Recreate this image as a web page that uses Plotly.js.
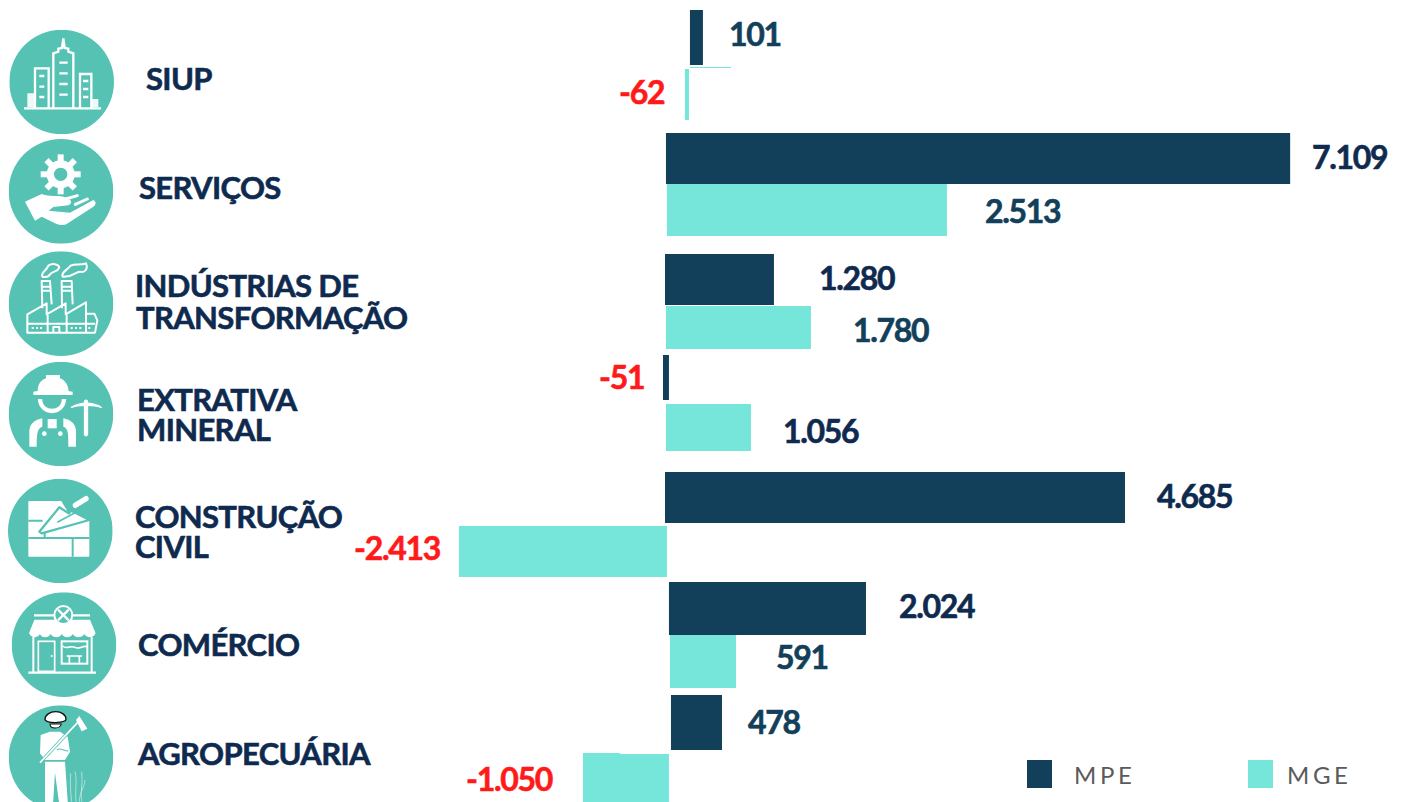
<!DOCTYPE html>
<html><head><meta charset="utf-8">
<script src="https://cdn.plot.ly/plotly-3.0.1.min.js"></script>
<style>
html,body{margin:0;padding:0;background:#fff;overflow:hidden}
#chart{width:1402px;height:802px}
</style></head><body><div id="chart"></div>
<script>
// Printed values, as labelled in the reference
const categories = ['SIUP','SERVIÇOS','INDÚSTRIAS DE<br>TRANSFORMAÇÃO','EXTRATIVA<br>MINERAL','CONSTRUÇÃO<br>CIVIL','COMÉRCIO','AGROPECUÁRIA'];
const mpeValues = [101,7109,1280,-51,4685,2024,478];
const mgeValues = [-62,2513,1780,1056,-2413,591,-1050];
const seriesNames = ['MPE','MGE'];
// The reference's bars are hand-placed and not to one scale: lengths as drawn
const mpeDrawn = [148,7109,1241,-68,5239,2244,581];
const mgeDrawn = [-46,3189,1651,968,-2369,752,-979];
const mpeBase = [273,0,-11,34,-11,34,57];
const mgeBase = [262,11,0,0,11,46,34];
const mpeRow = [37.5,158.5,279.5,377.5,497.5,608.5,722.5];
const mgeRow = [94.5,210,327.5,427.5,551.5,661.5,778];
const mpeThick = [55,51,51,45,51,53,55];
const mgeThick = [51,52,43,47,51,53,48];

const DARK='#12405a', TEAL='#75e6d9', NAVY='#0f2a4f', RED='#ff1a1a', DISC='#55c2b4';
const W=1402,H=802;
const px=(x)=>x/W, py=(y)=>1-y/H;
const fmt=(v)=>{const s=Math.abs(v).toString();const t=s.length>3?s.slice(0,-3)+'.'+s.slice(-3):s;return (v<0?'-':'')+t;};

const fontFam='Lato, sans-serif';
// [left, centre of the first line, second-line indent, second-line gap]
const catPos=[[146,78,0,30],[139,187,0,30],[135,285,1,32],[137,399,0,30],[135,516,0,30],[138,644,0,30],[137,753,0,30]];
const mpeLabelPos=[[729,33,DARK],[1312,156,NAVY],[819,277,NAVY],[599,376,RED],[1157,495,NAVY],[899,605,NAVY],[748,721,DARK]];
const mgeLabelPos=[[619,92,RED],[985,210,DARK],[853,329,DARK],[783,430,NAVY],[354,547,RED],[776,656,DARK],[466,778,RED]];

const ann=[];
const addText=(text,x,y,color,size,weight,anchor)=>ann.push({text,xref:'paper',yref:'paper',x:px(x),y:py(y),xanchor:'left',yanchor:anchor||'middle',showarrow:false,align:'left',
  font:{family:fontFam,size,color,weight},borderpad:0,borderwidth:0});
categories.forEach((c,i)=>addText(c,catPos[i][0],catPos[i][1]-18.6,NAVY,31,700,'top'));
const catEnd=ann.length;
mpeValues.forEach((v,i)=>addText(fmt(v),mpeLabelPos[i][0],mpeLabelPos[i][1],mpeLabelPos[i][2],32,700));
mgeValues.forEach((v,i)=>addText(fmt(v),mgeLabelPos[i][0],mgeLabelPos[i][1],mgeLabelPos[i][2],32,700));
const legendStart=ann.length;
addText(seriesNames[0],1074,774,'#5a5a5a',24,400);
addText(seriesNames[1],1287,774,'#5a5a5a',24,400);

// icons: white line art on teal discs; coordinates in a 3x crop space
const gear=(cx,cy)=>{let s='';for(let a=0;a<360;a+=45)s+=`<rect x="${cx-9}" y="${cy-60}" width="18" height="30" fill="#fff" transform="rotate(${a} ${cx} ${cy})"/>`;
 return s+`<circle cx="${cx}" cy="${cy}" r="42" fill="#fff"/><circle cx="${cx}" cy="${cy}" r="20" fill="${DISC}"/>`;};
const icons=[
 {c:[185,186],svg:`<g fill="none" stroke="#fff" stroke-width="7">
  <path d="M72 265H303"/><path d="M160 265V100L175 95V86L186 84L190 55L194 84L205 86V95L220 100V265"/>
  <path d="M105 265V145H146V265M240 265V162H274V265"/>
  <path d="M178 128H203M178 160H203M178 192H203M178 224H203M118 168H133M118 200H133M118 231H133M249 183H265M249 207H265M249 231H265"/></g>
  <path d="M82 262V220H103V262ZM276 262V237H295V262Z" fill="#fff" opacity=".9"/>`},
 {c:[183,514],svg:gear(182,463)+`<path d="M75 545L125 522C150 532 170 525 190 530C212 535 222 548 205 556L160 561L146 572L210 578L280 540C290 545 288 555 280 560L200 612C190 618 175 615 165 610L125 590L105 602Z" fill="#fff"/>
  <path d="M197 537L232 527M226 553L262 537" stroke="#fff" stroke-width="9" stroke-linecap="round"/>`},
 {c:[183,176],svg:`<g fill="none" stroke="#fff" stroke-width="6" stroke-linejoin="round">
  <path d="M127 95C122 80 140 78 145 62C155 55 175 55 178 68C170 85 160 75 150 88C145 97 135 97 127 95Z"/>
  <path d="M188 95C183 80 200 78 212 62C225 55 240 62 258 55C265 70 255 85 240 80C225 80 220 97 188 95Z"/>
  <path d="M127 190L125 108H150L155 178M127 125H150M127 137H151M186 190L185 108H215L218 178M186 125H215M186 137H216"/>
  <path d="M82 208L140 175V208L197 175V208L258 172V206H283L292 226L285 263H82ZM82 236H285M143 210V263M200 210V263M258 206V263M160 263V246H178V263"/></g>
  <path d="M95 246h6v6h-6zM108 246h6v6h-6zM120 246h6v6h-6zM212 246h6v6h-6zM225 246h6v6h-6zM238 246h6v6h-6zM265 246h6v6h-6z" fill="#fff"/>`},
 {c:[183,507],svg:`<path d="M113 438C113 415 125 405 138 400V390H180V400C195 405 205 420 206 438L218 440V450H100V440Z" fill="#fff"/>
  <path d="M120 462C122 510 190 510 192 462" fill="none" stroke="#fff" stroke-width="13"/>
  <path d="M88 605V560C88 535 105 525 127 520V545C112 550 110 565 110 605ZM228 605V560C228 535 212 525 190 520V545C205 550 205 565 205 605Z" fill="#fff"/>
  <rect x="143" y="522" width="27" height="28" fill="#fff"/><circle cx="133" cy="566" r="7" fill="#fff"/><circle cx="181" cy="566" r="7" fill="#fff"/>
  <path d="M213 488C240 470 280 470 305 488C285 480 235 478 213 488Z" fill="#fff" stroke="#fff" stroke-width="4"/>
  <path d="M258 470V568" stroke="#fff" stroke-width="13" stroke-linecap="round"/>`},
 {c:[181,183],svg:`<rect x="85" y="93" width="183" height="167" rx="3" fill="#fff"/>
  <path d="M182 90H270V148L214 122L206 130Z" fill="${DISC}"/>
  <path d="M85 152H128M85 204H268M218 204V260M134 186V204" stroke="${DISC}" stroke-width="6" fill="none"/>
  <path d="M118 185L178 112L206 130L214 122L268 150L125 190Z" fill="#fff" stroke="${DISC}" stroke-width="7" stroke-linejoin="round"/>
  <path d="M226 106L258 86" stroke="${DISC}" stroke-width="24" stroke-linecap="round"/><path d="M226 106L258 86" stroke="#fff" stroke-width="16" stroke-linecap="round"/>
  <path d="M172 157L225 128" stroke="${DISC}" stroke-width="5"/>`},
 {c:[192,524],svg:`<path d="M85 608H288" stroke="#fff" stroke-width="7"/><path d="M102 436H270" stroke="#fff" stroke-width="7"/>
  <path d="M103 449H270L287 490C280 505 260 505 253 492C245 505 225 505 219 492C210 505 192 505 186 492C178 505 160 505 152 492C145 505 125 505 120 492C112 505 95 505 87 490Z" fill="#fff"/>
  <circle cx="190" cy="435" r="27" fill="${DISC}" stroke="#fff" stroke-width="6"/>
  <path d="M176 421L204 449M204 421L176 449" stroke="#fff" stroke-width="7" stroke-linecap="round"/>
  <path d="M100 500V606M275 500V606" stroke="#fff" stroke-width="6"/>
  <rect x="115" y="514" width="49" height="90" fill="none" stroke="#fff" stroke-width="5"/><circle cx="155" cy="558" r="3" fill="#fff"/>
  <rect x="185" y="514" width="77" height="67" fill="none" stroke="#fff" stroke-width="6"/>
  <path d="M188 528C200 540 210 525 224 532C238 540 248 525 260 530M200 558H246M208 558V578M238 558V578" fill="none" stroke="#fff" stroke-width="5"/>`},
 {c:[183,203],svg:`<path d="M135 215V360H158L165 248L180 360H205L195 215Z" fill="#fff"/>
  <path d="M122 135L150 125H180L203 140L210 185L195 210H135L120 190Z" fill="#fff"/>
  <path d="M150 102C150 118 180 118 184 102Z" fill="#fff" stroke="#111" stroke-width="3"/>
  <path d="M135 88C135 75 150 65 167 65C185 65 198 75 198 88C198 100 135 102 135 88Z" fill="#fff" stroke="#111" stroke-width="4"/>
  <path d="M120 218L238 92" stroke="${DISC}" stroke-width="10"/><path d="M120 218L238 92" stroke="#fff" stroke-width="5"/>
  <path d="M228 90L238 78L262 116L245 124Z" fill="#fff"/>
  <path d="M170 180C180 170 195 185 205 183" stroke="${DISC}" stroke-width="3" fill="none"/>
  <path d="M215 335C212 310 210 280 212 250M228 335C225 300 232 270 225 245M245 335C240 300 250 280 245 245M238 335C240 300 255 290 255 270" stroke="#d6f2ee" stroke-width="2" fill="none"/>`}
];
const iconOffsets=[20,20,245,245,470,470,690];
const layoutImages=icons.map((ic,i)=>{
 const [cx,cy]=ic.c;
 const s=`<svg xmlns="http://www.w3.org/2000/svg" width="314" height="314" viewBox="${cx-157} ${cy-157} 314 314"><circle cx="${cx}" cy="${cy}" r="157" fill="${DISC}"/>${ic.svg}</svg>`;
 return {source:'data:image/svg+xml;charset=utf-8,'+encodeURIComponent(s),xref:'paper',yref:'paper',
  x:px((cx-157)/3),y:py((cy-157)/3+iconOffsets[i]),sizex:314/3/W,sizey:314/3/H,sizing:'stretch',xanchor:'left',yanchor:'top',layer:'above'};
});

const mkBar=(name,x,y,w,base,color,values)=>({type:'bar',orientation:'h',name,x,y,width:w,base,customdata:values,
 marker:{color,line:{width:0}},hoverinfo:'skip',showlegend:false});
const data=[mkBar(seriesNames[0],mpeDrawn,mpeRow,mpeThick,mpeBase,DARK,mpeValues),
            mkBar(seriesNames[1],mgeDrawn,mgeRow,mgeThick,mgeBase,TEAL,mgeValues)];
const shapes=[
 {type:'rect',xref:'paper',yref:'paper',x0:px(1027),x1:px(1052),y0:py(760),y1:py(788),fillcolor:DARK,line:{width:0}},
 {type:'rect',xref:'paper',yref:'paper',x0:px(1248),x1:px(1273),y0:py(760),y1:py(788),fillcolor:TEAL,line:{width:0}},
 {type:'line',xref:'paper',yref:'paper',x0:px(690),x1:px(731),y0:py(67.5),y1:py(67.5),line:{color:TEAL,width:1}},
 {type:'rect',xref:'paper',yref:'paper',x0:px(583),x1:px(620),y0:py(753),y1:py(755),fillcolor:TEAL,line:{width:0}}
];
const layout={width:W,height:H,margin:{l:0,r:0,t:0,b:0},paper_bgcolor:'#fff',plot_bgcolor:'#fff',barmode:'overlay',showlegend:false,
 xaxis:{range:[-7585,8383],visible:false,fixedrange:true},yaxis:{range:[802,0],visible:false,fixedrange:true},annotations:ann,shapes,images:layoutImages};
Plotly.newPlot('chart',data,layout,{displayModeBar:false,staticPlot:true}).then(()=>{
 document.querySelectorAll('.annotation').forEach((g,i)=>{
  g.querySelectorAll('text').forEach(t=>{
   if(i>=legendStart){t.style.letterSpacing='3.6px';return;}
   t.style.letterSpacing=i<catEnd?'-0.65px':'-1.3px';
   t.style.stroke=t.style.fill; t.style.strokeWidth='0.6px';
   if(i<catEnd){
    const lines=t.querySelectorAll('tspan.line');
    if(lines.length>1){lines[1].setAttribute('dy',catPos[i][3]+'px');lines[1].setAttribute('dx',catPos[i][2]);}
   }
  });
 });
});
</script></body></html>
